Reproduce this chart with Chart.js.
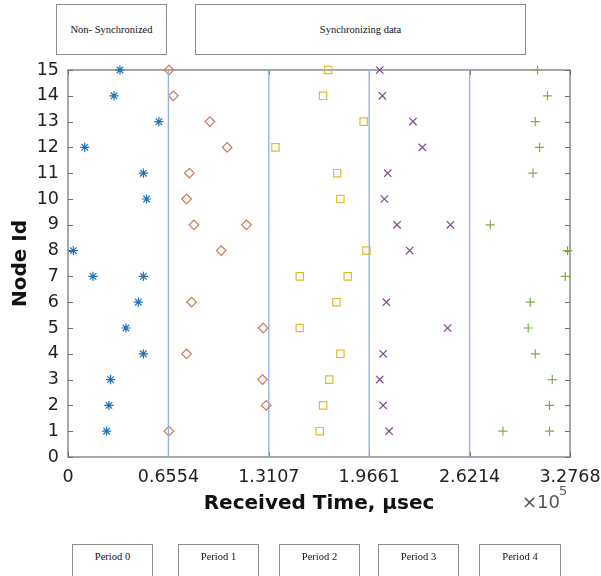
<!DOCTYPE html>
<html>
<head>
<meta charset="utf-8">
<script src="https://cdn.jsdelivr.net/npm/chart.js@4"></script>
<style>
  html, body { margin: 0; padding: 0; background: #fff; }
  #wrap { position: relative; width: 601px; height: 576px; overflow: hidden; }
  #plot { position: absolute; left: 0; top: 0; }
  .box {
    position: absolute;
    border: 1px solid #8c8c8c;
    box-sizing: border-box;
    font-family: 'Liberation Serif', serif;
    font-size: 10.5px;
    color: #111;
    text-align: center;
    background: #fff;
  }
</style>
</head>
<body>
<div id="wrap">
  <canvas id="plot" width="601" height="576"></canvas>
  <div class="box" style="left:56px;top:4px;width:111px;height:51px;line-height:49px;">Non- Synchronized</div>
  <div class="box" style="left:195px;top:4px;width:331px;height:51px;line-height:49px;">Synchronizing data</div>
  <div class="box" style="left:72px;top:544px;width:81px;height:33px;padding-top:6px;">Period 0</div>
  <div class="box" style="left:178px;top:544px;width:81px;height:33px;padding-top:6px;">Period 1</div>
  <div class="box" style="left:279px;top:544px;width:81px;height:33px;padding-top:6px;">Period 2</div>
  <div class="box" style="left:378px;top:544px;width:81px;height:33px;padding-top:6px;">Period 3</div>
  <div class="box" style="left:479px;top:544px;width:82px;height:33px;padding-top:6px;">Period 4</div>
</div>
<script>
// received time (usec) of each node's packet, one array pair per period
const period0Nodes = [15, 14, 13, 12, 11, 10, 8, 7, 7, 6, 5, 4, 3, 2, 1];
const period0Times = [33900, 30000, 59300, 10900, 49200, 51300, 3500, 16300, 49200, 45900, 37800, 49200, 27800, 26700, 25200];

const period1Nodes = [15, 14, 13, 12, 11, 10, 9, 9, 8, 6, 5, 4, 3, 2, 1];
const period1Times = [65900, 68700, 92600, 103900, 79200, 77400, 82200, 116500, 100000, 80700, 127400, 77400, 127000, 129400, 65900];

const period2Nodes = [15, 14, 13, 12, 11, 10, 8, 7, 7, 6, 5, 4, 3, 2, 1];
const period2Times = [169800, 166500, 193000, 135400, 175700, 177800, 194800, 151300, 182600, 175200, 151300, 177800, 170500, 166500, 164300];

const period3Nodes = [15, 14, 13, 12, 11, 10, 9, 9, 8, 6, 5, 4, 3, 2, 1];
const period3Times = [203500, 205200, 225200, 231300, 208700, 206500, 214800, 249600, 223000, 207800, 247800, 205700, 203500, 205700, 209600];

const period4Nodes = [15, 14, 13, 12, 11, 9, 8, 7, 6, 5, 4, 3, 2, 1, 1];
const period4Times = [306500, 313000, 305000, 307800, 303500, 275600, 326100, 324600, 301700, 300400, 305000, 316100, 314300, 283900, 314300];

const periodBounds = [65536, 131072, 196608, 262144];

const xTickValues = [0, 65536, 131072, 196608, 262144, 327680];
const xTickLabels = ['0', '0.6554', '1.3107', '1.9661', '2.6214', '3.2768'];
const yMax = 15;

function toPoints(xs, ys) {
    return xs.map((x, i) => ({ x: x, y: ys[i] }));
}

const markerSets = [
    { times: period0Times, nodes: period0Nodes, style: 'star',     color: '#1a74b8', r: 4.6 },
    { times: period1Times, nodes: period1Nodes, style: 'rectRot',  color: '#cf7650', r: 4.8 },
    { times: period2Times, nodes: period2Nodes, style: 'rect',     color: '#e3bb2c', r: 5.2 },
    { times: period3Times, nodes: period3Nodes, style: 'crossRot', color: '#7d4a8c', r: 5.2 },
    { times: period4Times, nodes: period4Nodes, style: 'cross',    color: '#7fae45', r: 4.6 }
];

const datasets = [];

// boundaries between periods
periodBounds.forEach(b => {
    datasets.push({
        type: 'line',
        data: [{ x: b, y: 0 }, { x: b, y: yMax }],
        borderColor: '#94b2e8',
        borderWidth: 1.4,
        pointRadius: 0,
        fill: false
    });
});

markerSets.forEach(s => {
    datasets.push({
        type: 'scatter',
        data: toPoints(s.times, s.nodes),
        pointStyle: s.style,
        pointRadius: s.r,
        pointHoverRadius: s.r,
        borderColor: s.color,
        backgroundColor: 'rgba(0,0,0,0)',
        pointBorderWidth: 1.2,
        clip: false
    });
});

// MATLAB-like box with inward tick marks, plus the x10^5 exponent
const axesBox = {
    id: 'axesBox',
    beforeDatasetsDraw(chart) {
        const { ctx, chartArea: a, scales: { x, y } } = chart;
        ctx.save();
        ctx.strokeStyle = '#6e6e6e';
        ctx.lineWidth = 1.2;
        ctx.strokeRect(a.left, a.top, a.right - a.left, a.bottom - a.top);
        ctx.lineWidth = 1;
        ctx.beginPath();
        xTickValues.forEach(v => {
            const px = Math.round(x.getPixelForValue(v)) + 0.5;
            ctx.moveTo(px, a.bottom); ctx.lineTo(px, a.bottom - 5);
            ctx.moveTo(px, a.top); ctx.lineTo(px, a.top + 5);
        });
        for (let v = 0; v <= yMax; v++) {
            const py = Math.round(y.getPixelForValue(v)) + 0.5;
            ctx.moveTo(a.left, py); ctx.lineTo(a.left + 5, py);
            ctx.moveTo(a.right, py); ctx.lineTo(a.right - 5, py);
        }
        ctx.stroke();
        ctx.restore();
    },
    afterDraw(chart) {
        const { ctx, chartArea: a } = chart;
        ctx.save();
        ctx.fillStyle = '#555';
        ctx.textBaseline = 'alphabetic';
        ctx.textAlign = 'left';
        ctx.font = '18px "DejaVu Sans"';
        ctx.fillText('\u00d710', a.right - 48, 508);
        ctx.font = '13px "DejaVu Sans"';
        ctx.fillText('5', a.right - 11, 495);
        ctx.restore();
    }
};

new Chart(document.getElementById('plot'), {
    type: 'scatter',
    data: { datasets: datasets },
    options: {
        responsive: false,
        animation: false,
        events: [],
        layout: { padding: { top: 70, right: 31, bottom: 59, left: 0 } },
        plugins: {
            legend: { display: false },
            tooltip: { enabled: false }
        },
        scales: {
            x: {
                type: 'linear',
                min: 0,
                max: 327680,
                grid: { display: false, drawTicks: false },
                border: { display: false },
                afterBuildTicks: scale => {
                    scale.ticks = xTickValues.map(v => ({ value: v }));
                },
                afterFit: scale => {
                    scale.height = 60;
                    scale.paddingLeft = 0;
                    scale.paddingRight = 0;
                },
                ticks: {
                    padding: 10,
                    color: '#222',
                    font: { family: 'DejaVu Sans', size: 17.5 },
                    maxRotation: 0,
                    autoSkip: false,
                    callback: (v) => xTickLabels[xTickValues.indexOf(v)]
                },
                title: {
                    display: true,
                    text: 'Received Time, \u00b5sec',
                    color: '#111',
                    font: { family: 'DejaVu Sans', size: 20, weight: 'bold' },
                    padding: { top: 0, bottom: 1 }
                }
            },
            y: {
                min: 0,
                max: yMax,
                grid: { display: false, drawTicks: false },
                border: { display: false },
                afterFit: scale => {
                    scale.width = 68;
                    scale.paddingTop = 0;
                    scale.paddingBottom = 0;
                },
                ticks: {
                    stepSize: 1,
                    padding: 9,
                    color: '#222',
                    font: { family: 'DejaVu Sans', size: 17.5 }
                },
                title: {
                    display: true,
                    text: 'Node Id',
                    color: '#111',
                    font: { family: 'DejaVu Sans', size: 20, weight: 'bold' },
                    padding: { top: 9, bottom: 0 }
                }
            }
        }
    },
    plugins: [axesBox]
});
</script>
</body>
</html>
